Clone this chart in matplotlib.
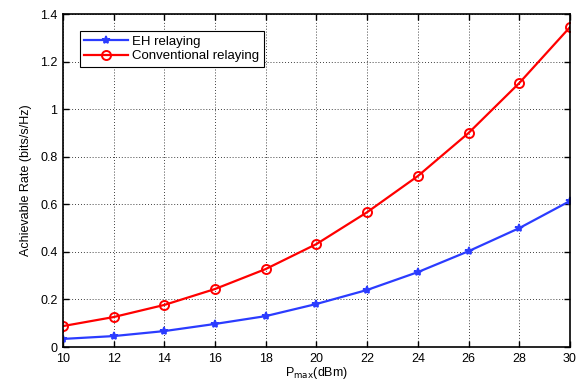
import numpy as np
import matplotlib
matplotlib.use("Agg")
import matplotlib.pyplot as plt

plt.rcParams['font.family'] = ['Liberation Sans', 'DejaVu Sans']

# --- Data ---
p_max = [10, 12, 14, 16, 18, 20, 22, 24, 26, 28, 30]
eh_rate = [0.034, 0.046, 0.067, 0.097, 0.130, 0.181, 0.240, 0.315, 0.403, 0.500, 0.614]
conv_rate = [0.088, 0.126, 0.177, 0.244, 0.328, 0.433, 0.567, 0.719, 0.900, 1.110, 1.345]

fig = plt.figure(figsize=(5.81, 3.91), dpi=100)
ax = fig.add_axes([0.1084, 0.1125, 0.8726, 0.8515])

ax.plot(p_max, eh_rate, color='#2b3cff', lw=1.6, marker='*', ms=6,
        mew=1.2, label='EH relaying')
ax.plot(p_max, conv_rate, color='#ff0000', lw=1.6, marker='o', ms=6.5,
        mfc='none', mew=1.4, label='Conventional relaying')

ax.set_xlim(10, 30)
ax.set_ylim(0, 1.4)
ax.set_xticks(range(10, 31, 2))
ax.set_yticks(np.arange(0, 1.41, 0.2))
ax.set_yticklabels(['0', '0.2', '0.4', '0.6', '0.8', '1', '1.2', '1.4'])

ax.grid(True, color='black', linestyle=(0, (1, 2.5)), linewidth=0.6)
ax.tick_params(direction='in', top=True, right=True, length=4, width=1,
               labelsize=9, pad=4)
for s in ax.spines.values():
    s.set_linewidth(1.2)

ax.set_xlabel(r'P$_{\mathrm{max}}$(dBm)', fontsize=9, labelpad=0)
ax.set_ylabel('Achievable Rate (bits/s/Hz)', fontsize=9, labelpad=6)

leg = ax.legend(loc='upper left', bbox_to_anchor=(0.02, 0.97), fontsize=9.5,
                fancybox=False, edgecolor='black', framealpha=1,
                handlelength=3.3, borderpad=0.35, labelspacing=0.2,
                handletextpad=0.3)
leg.get_frame().set_linewidth(0.8)

fig.savefig('out.png', dpi=100)
